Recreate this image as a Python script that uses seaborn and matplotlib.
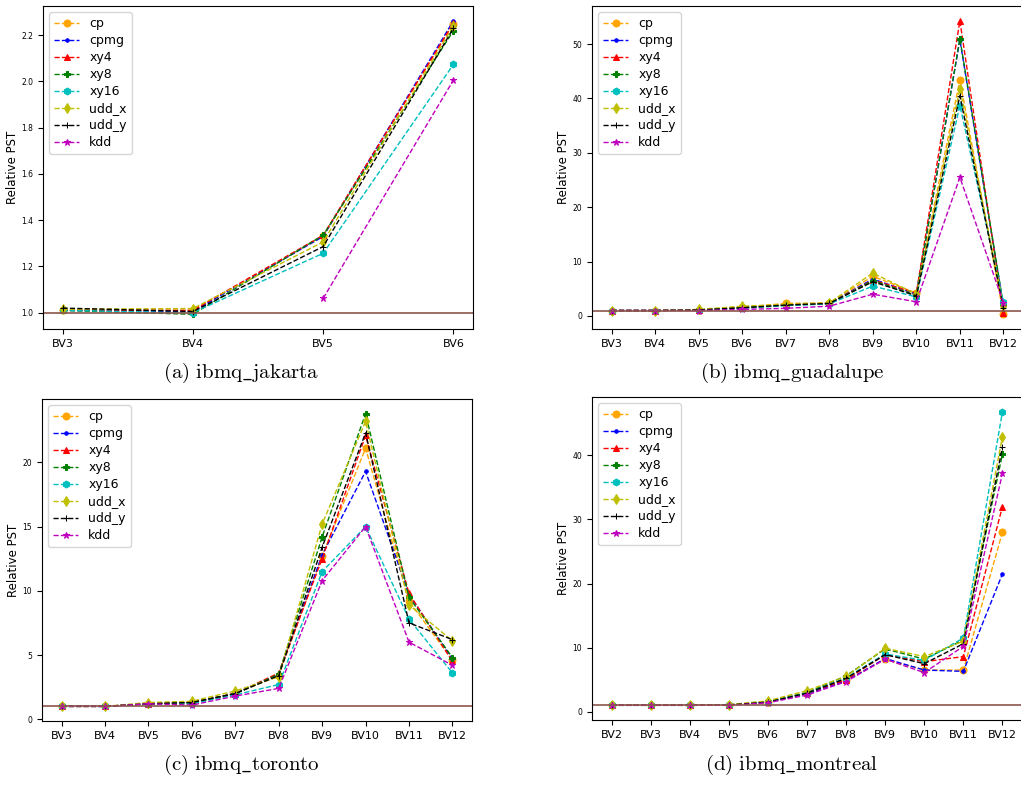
import numpy as np
import pandas as pd
import matplotlib
matplotlib.use('Agg')
import matplotlib.pyplot as plt
import seaborn as sns

plt.rcParams['mathtext.fontset'] = 'cm'

# secuencias y estilos
seqs = ['cp', 'cpmg', 'xy4', 'xy8', 'xy16', 'udd_x', 'udd_y', 'kdd']
colores = ['orange', 'b', 'r', 'g', 'c', 'y', 'k', 'm']
marcadores = ['o', '.', '^', 'P', 'h', 'd', '+', '*']

nan = np.nan

# ibmq_jakarta
bv_jakarta = ['BV3', 'BV4', 'BV5', 'BV6']
jakarta = {
    'cp':    [1.010, 1.010, 1.330, 2.250],
    'cpmg':  [1.010, 1.005, 1.330, 2.263],
    'xy4':   [1.012, 1.010, 1.335, 2.253],
    'xy8':   [1.010, 0.993, 1.335, 2.220],
    'xy16':  [1.010, 1.000, 1.257, 2.074],
    'udd_x': [1.015, 1.018, 1.306, 2.240],
    'udd_y': [1.020, 1.005, 1.286, 2.230],
    'kdd':   [nan, nan, 1.062, 2.006],
}

# ibmq_guadalupe
bv_guadalupe = ['BV3', 'BV4', 'BV5', 'BV6', 'BV7', 'BV8', 'BV9', 'BV10', 'BV11', 'BV12']
guadalupe = {
    'cp':    [1.0, 1.0, 1.1, 1.6, 2.3, 2.4, 7.3, 4.2, 43.4, 0.3],
    'cpmg':  [1.0, 1.0, 1.1, 1.5, 2.0, 2.3, 6.8, 4.0, 50.8, 1.8],
    'xy4':   [1.0, 1.0, 1.1, 1.5, 2.0, 2.3, 6.6, 4.2, 54.3, 0.5],
    'xy8':   [1.0, 1.0, 1.1, 1.5, 2.0, 2.3, 6.5, 3.8, 51.0, 2.0],
    'xy16':  [1.0, 1.0, 1.1, 1.4, 1.9, 2.2, 5.5, 3.5, 38.7, 2.6],
    'udd_x': [1.0, 1.0, 1.2, 1.8, 2.1, 2.4, 7.9, 4.0, 41.8, 1.8],
    'udd_y': [1.0, 1.0, 1.1, 1.5, 2.0, 2.3, 6.3, 3.7, 40.5, 1.5],
    'kdd':   [1.0, 1.0, 1.0, 1.2, 1.4, 1.8, 4.0, 2.6, 25.5, 2.4],
}

# ibmq_toronto
bv_toronto = ['BV3', 'BV4', 'BV5', 'BV6', 'BV7', 'BV8', 'BV9', 'BV10', 'BV11', 'BV12']
toronto = {
    'cp':    [1.0, 1.0, 1.2, 1.3, 2.0, 3.4, 12.7, 21.1, 9.2, 4.6],
    'cpmg':  [1.0, 1.0, 1.2, 1.3, 2.0, 3.5, 12.8, 19.3, 9.7, 4.7],
    'xy4':   [1.0, 1.0, 1.2, 1.3, 2.0, 3.6, 12.5, 22.1, 9.8, 4.5],
    'xy8':   [1.0, 1.0, 1.2, 1.3, 2.0, 3.5, 14.2, 23.8, 9.5, 4.8],
    'xy16':  [1.0, 1.0, 1.2, 1.2, 1.9, 2.7, 11.5, 15.0, 7.8, 3.6],
    'udd_x': [1.0, 1.0, 1.3, 1.4, 2.2, 3.3, 15.2, 23.2, 8.9, 6.1],
    'udd_y': [1.0, 1.0, 1.2, 1.3, 2.0, 3.4, 13.4, 22.3, 7.5, 6.2],
    'kdd':   [1.0, 1.0, 1.2, 1.1, 1.8, 2.4, 10.8, 15.0, 6.0, 4.2],
}

# ibmq_montreal
bv_montreal = ['BV2', 'BV3', 'BV4', 'BV5', 'BV6', 'BV7', 'BV8', 'BV9', 'BV10', 'BV11', 'BV12']
montreal = {
    'cp':    [1.0, 1.0, 1.0, 1.05, 1.5, 2.9, 4.9, 8.2, 6.5, 6.5, 28.0],
    'cpmg':  [1.0, 1.0, 1.0, 1.05, 1.5, 2.8, 4.8, 8.3, 6.5, 6.3, 21.5],
    'xy4':   [1.0, 1.0, 1.0, 1.05, 1.5, 2.9, 5.0, 8.9, 7.8, 8.6, 32.0],
    'xy8':   [1.0, 1.0, 1.0, 1.05, 1.6, 3.0, 5.6, 9.8, 8.2, 11.2, 40.2],
    'xy16':  [1.0, 1.0, 1.0, 1.05, 1.5, 2.9, 5.3, 9.0, 8.0, 11.5, 46.8],
    'udd_x': [1.0, 1.0, 1.0, 1.10, 1.7, 3.3, 5.5, 9.9, 8.6, 11.0, 42.9],
    'udd_y': [1.0, 1.0, 1.0, 1.05, 1.5, 2.9, 5.2, 8.9, 7.5, 10.6, 41.3],
    'kdd':   [1.0, 1.0, 1.0, 1.00, 1.4, 2.6, 4.7, 8.2, 6.1, 10.2, 37.2],
}

paneles = [
    (bv_jakarta, jakarta, '(a)\\ ibmq\\_jakarta'),
    (bv_guadalupe, guadalupe, '(b)\\ ibmq\\_guadalupe'),
    (bv_toronto, toronto, '(c)\\ ibmq\\_toronto'),
    (bv_montreal, montreal, '(d)\\ ibmq\\_montreal'),
]

W, H = 1021, 785
# posiciones de los ejes en pixeles (izq, der, arriba, abajo)
cajas = [(43, 473, 6, 329), (592, 1023, 6, 329), (42, 472, 399, 721), (592, 1022, 397, 720)]
captions_xy = [(241, 373), (792, 373), (241, 765), (792, 765)]

fig = plt.figure(figsize=(W / 100, H / 100), dpi=100)

for (bvs, datos, titulo), (l, r, t, b), (cx, cy) in zip(paneles, cajas, captions_xy):
    ax = fig.add_axes([l / W, 1 - b / H, (r - l) / W, (b - t) / H])
    for s, col, mk in zip(seqs, colores, marcadores):
        df = pd.DataFrame({'bv': bvs, 'pst': datos[s]}).dropna()
        sns.lineplot(data=df, x='bv', y='pst', color=col, marker=mk, linestyle='--',
                     linewidth=1, markersize=5, markeredgecolor=col, label=s,
                     estimator=None, sort=False, ax=ax)
    ax.axhline(1, color='tab:brown', linewidth=1.2)
    ax.set_xlabel('')
    ax.set_ylabel('Relative PST', fontsize=8.5, labelpad=2)
    ax.tick_params(axis='y', labelsize=5.5)
    ax.tick_params(axis='x', labelsize=8)
    ax.legend(loc='upper left', fontsize=9, labelspacing=0.32)
    fig.text(cx / W, 1 - cy / H, '$\\mathrm{' + titulo + '}$', fontsize=15,
             ha='center', va='center')

plt.savefig('out.png', dpi=100)
